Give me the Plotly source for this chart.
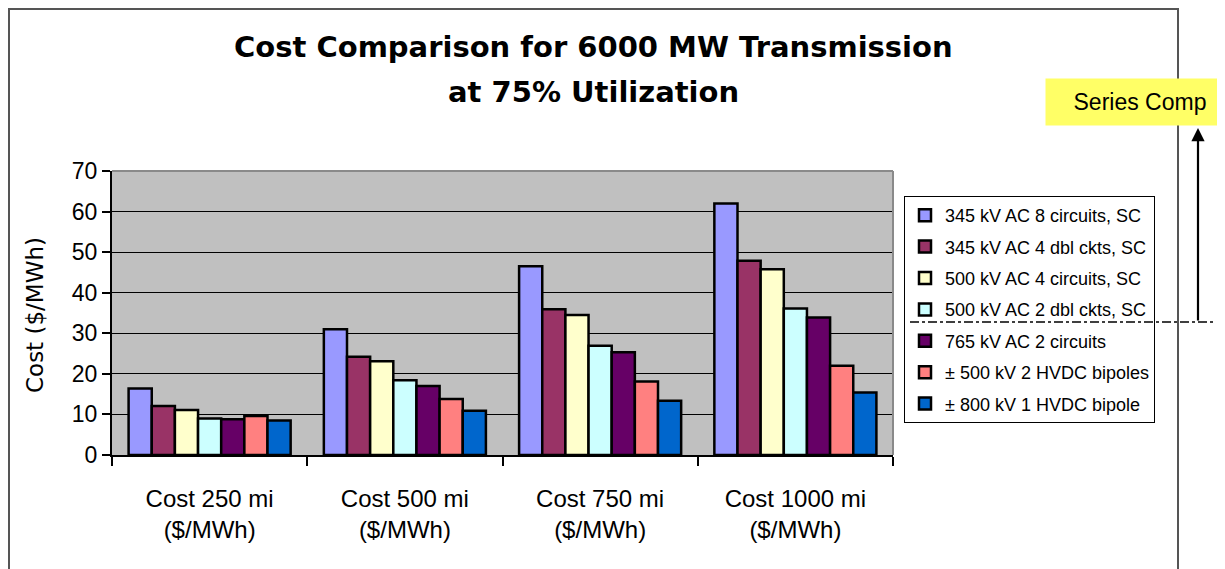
import plotly.graph_objects as go

categories = ["Cost 250 mi<br>($/MWh)", "Cost 500 mi<br>($/MWh)",
              "Cost 750 mi<br>($/MWh)", "Cost 1000 mi<br>($/MWh)"]
series_names = ["345 kV AC 8 circuits, SC", "345 kV AC 4 dbl ckts, SC",
                "500 kV AC 4 circuits, SC", "500 kV AC 2 dbl ckts, SC",
                "765 kV AC 2 circuits", "± 500 kV 2 HVDC bipoles",
                "± 800 kV 1 HVDC bipole"]
s345_8 = [16.4, 31.0, 46.5, 62.0]
s345_4dbl = [12.1, 24.2, 35.9, 47.9]
s500_4 = [11.1, 23.1, 34.5, 45.8]
s500_2dbl = [9.0, 18.4, 26.9, 36.1]
s765_2 = [8.8, 17.0, 25.3, 33.9]
hvdc500 = [9.6, 13.8, 18.1, 22.0]
hvdc800 = [8.5, 10.9, 13.4, 15.4]
series_values = [s345_8, s345_4dbl, s500_4, s500_2dbl, s765_2, hvdc500, hvdc800]
colors = ["#9999FF", "#993366", "#FFFFCC", "#CCFFFF", "#660066", "#FF8080", "#0066CC"]
yticks = [0, 10, 20, 30, 40, 50, 60, 70]
series_comp_level = 32.8

fig = go.Figure()
for i, (name, vals, col) in enumerate(zip(series_names, series_values, colors)):
    fig.add_trace(go.Bar(x=categories, y=vals, name=name, legendgroup=f"g{i}",
                         marker=dict(color=col, line=dict(color="black", width=2.5))))

OFF = 8  # page body margin
W, H = 1225, 569
L, R, T, B = 112, 893, 171, 455
pw, ph = R - L, B - T


def px(x):
    return (x - L) / pw


def py(y):
    return (B - y) / ph


fig.update_layout(
    width=W - OFF, height=H - OFF,
    margin=dict(l=L - OFF, r=W - R, t=T - OFF, b=H - B, pad=0),
    paper_bgcolor="white", plot_bgcolor="#C0C0C0",
    barmode="group", bargap=0.17, bargroupgap=0,
    showlegend=True,
    legend=dict(x=px(904), y=py(196), xanchor="left", yanchor="top",
                bordercolor="black", borderwidth=1, bgcolor="rgba(0,0,0,0)",
                font=dict(family="Liberation Sans, Arial", size=18, color="black"),
                traceorder="grouped", tracegroupgap=5, itemwidth=30),
    xaxis=dict(showline=True, linecolor="black", linewidth=2, ticks="outside",
               tickson="boundaries", ticklen=9, tickcolor="black", tickwidth=1.5,
               ticklabelstandoff=21,
               tickfont=dict(family="Liberation Sans, Arial", size=24, color="black")),
    yaxis=dict(range=[0, 70], tickvals=yticks, showline=True, linecolor="black", linewidth=2,
               ticks="outside", ticklen=8, tickcolor="black", tickwidth=1.5,
               showgrid=True, gridcolor="black", gridwidth=1.3, zeroline=False,
               tickfont=dict(family="Liberation Sans, Arial", size=23, color="black")),
)

shapes = [
    # outer frame
    dict(type="rect", xref="paper", yref="paper", x0=px(9), x1=px(1178), y0=py(620), y1=py(9),
         line=dict(color="#555555", width=2), fillcolor="rgba(0,0,0,0)", layer="below"),
    # plot area top & right border
    dict(type="line", xref="paper", yref="paper", x0=0, x1=1, y0=1, y1=1,
         line=dict(color="#8A8A8A", width=2), layer="above"),
    dict(type="line", xref="paper", yref="paper", x0=1, x1=1, y0=0, y1=1,
         line=dict(color="#8A8A8A", width=2), layer="above"),
    # series comp dash-dot line
    dict(type="line", xref="paper", yref="y", x0=px(910), x1=px(1213),
         y0=series_comp_level, y1=series_comp_level,
         line=dict(color="black", width=1.5, dash="dashdot"), layer="above"),
]
fig.update_layout(shapes=shapes)

annotations = [
    dict(text="<b>Cost Comparison for 6000 MW Transmission</b>", xref="paper", yref="paper",
         x=px(593), y=py(47), showarrow=False, xanchor="center", yanchor="middle",
         font=dict(family="DejaVu Sans", size=29, color="black")),
    dict(text="<b>at 75% Utilization</b>", xref="paper", yref="paper",
         x=px(593), y=py(92), showarrow=False, xanchor="center", yanchor="middle",
         font=dict(family="DejaVu Sans", size=29, color="black")),
    dict(text="Cost ($/MWh)", xref="paper", yref="paper", x=px(35), y=py(315),
         showarrow=False, textangle=-90, xanchor="center", yanchor="middle",
         font=dict(family="DejaVu Sans", size=23, color="black")),
    dict(text="Series Comp", xref="paper", yref="paper", x=px(1140), y=py(102),
         showarrow=False, xanchor="center", yanchor="middle", bgcolor="#FFFF66",
         width=186, height=44,
         font=dict(family="Liberation Sans, Arial", size=23, color="black")),
    dict(text="", xref="paper", yref="paper", x=px(1198), y=py(128),
         ax=0, ay=194, showarrow=True, arrowhead=2, arrowsize=1.2, arrowwidth=2.2,
         arrowcolor="black"),
]
fig.update_layout(annotations=annotations)

fig.write_html("out.html")
